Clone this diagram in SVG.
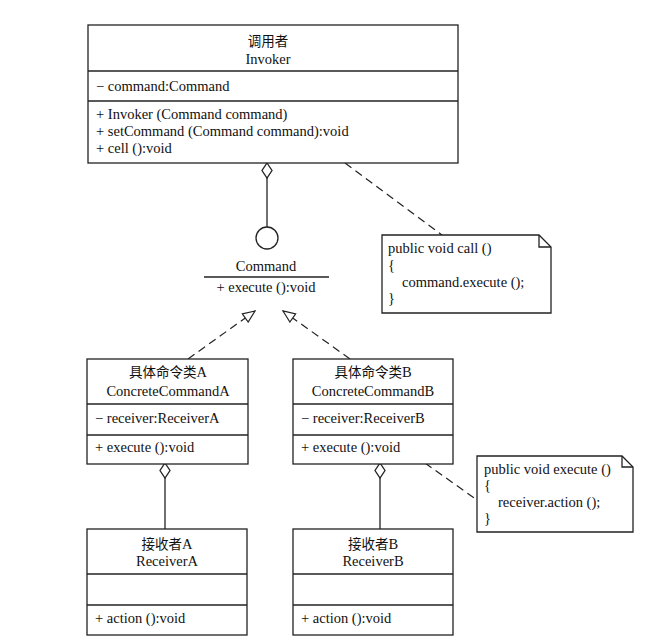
<svg xmlns="http://www.w3.org/2000/svg" width="664" height="644" viewBox="0 0 664 644">
<style>
.box{fill:#fff;stroke:#222;stroke-width:1.3}
.ln{fill:none;stroke:#222;stroke-width:1.3}
.dash{fill:none;stroke:#222;stroke-width:1.2;stroke-dasharray:8 5}
text{font-family:"Liberation Serif","Noto Sans CJK SC",serif;font-size:14.5px;fill:#111}
.c{text-anchor:middle}
.cjk{font-family:"Noto Sans CJK SC","Liberation Serif",sans-serif;font-size:13.5px}
</style>
<defs>
<marker id="tri" viewBox="0 0 14 12" refX="13" refY="6" markerWidth="14" markerHeight="12" markerUnits="userSpaceOnUse" orient="auto">
<path d="M1,1 L13,6 L1,11 Z" fill="#fff" stroke="#222" stroke-width="1.2"/>
</marker>
</defs>
<rect width="664" height="644" fill="#fff"/>
<g id="connectors">
<line class="ln" x1="267" y1="178" x2="267" y2="227"/>
<path class="box" d="M267,163 L272,170.5 L267,178 L262,170.5 Z"/>
<line class="dash" x1="345" y1="163" x2="442" y2="235"/>
<line class="dash" x1="188" y1="359" x2="255" y2="311" marker-end="url(#tri)"/>
<line class="dash" x1="350" y1="359" x2="283" y2="311" marker-end="url(#tri)"/>
<line class="ln" x1="165" y1="478" x2="165" y2="529"/>
<path class="box" d="M165,463 L170,470.5 L165,478 L160,470.5 Z"/>
<line class="ln" x1="380" y1="478" x2="380" y2="529"/>
<path class="box" d="M380,463 L385,470.5 L380,478 L375,470.5 Z"/>
<line class="dash" x1="425" y1="463" x2="477" y2="500"/>
</g>
<g id="invoker">
<rect class="box" x="88" y="25" width="370" height="138"/>
<line class="ln" x1="88" y1="71" x2="458" y2="71"/>
<line class="ln" x1="88" y1="101" x2="458" y2="101"/>
<text class="c cjk" x="268" y="46">调用者</text>
<text class="c" x="268" y="64">Invoker</text>
<text x="96" y="91">− command:Command</text>
<text x="96" y="119">+ Invoker (Command command)</text>
<text x="96" y="136">+ setCommand (Command command):void</text>
<text x="96" y="153">+ cell ():void</text>
</g>
<g id="command">
<circle class="box" cx="267" cy="238" r="11"/>
<text class="c" x="266" y="271">Command</text>
<line class="ln" x1="204" y1="277" x2="329" y2="277"/>
<text class="c" x="266" y="292">+ execute ():void</text>
</g>
<g id="note1">
<path class="box" d="M382,235 L539,235 L551,247 L551,313 L382,313 Z"/>
<path class="ln" d="M539,235 L539,247 L551,247"/>
<text x="388" y="253">public void call ()</text>
<text x="388" y="270">{</text>
<text x="402" y="287">command.execute ();</text>
<text x="388" y="303">}</text>
</g>
<g id="concreteA">
<rect class="box" x="87" y="359" width="161" height="105"/>
<line class="ln" x1="87" y1="404" x2="248" y2="404"/>
<line class="ln" x1="87" y1="435" x2="248" y2="435"/>
<text class="c" x="168" y="377"><tspan class="cjk">具体命令类</tspan>A</text>
<text class="c" x="168" y="396">ConcreteCommandA</text>
<text x="95" y="423">− receiver:ReceiverA</text>
<text x="95" y="452">+ execute ():void</text>
</g>
<g id="concreteB">
<rect class="box" x="293" y="359" width="160" height="105"/>
<line class="ln" x1="293" y1="404" x2="453" y2="404"/>
<line class="ln" x1="293" y1="435" x2="453" y2="435"/>
<text class="c" x="373" y="377"><tspan class="cjk">具体命令类</tspan>B</text>
<text class="c" x="373" y="396">ConcreteCommandB</text>
<text x="301" y="423">− receiver:ReceiverB</text>
<text x="301" y="452">+ execute ():void</text>
</g>
<g id="note2">
<path class="box" d="M477,456 L622,456 L633,467 L633,532 L477,532 Z"/>
<path class="ln" d="M622,456 L622,467 L633,467"/>
<text x="484" y="474">public void execute ()</text>
<text x="484" y="490">{</text>
<text x="498" y="507">receiver.action ();</text>
<text x="484" y="523">}</text>
</g>
<g id="receiverA">
<rect class="box" x="87" y="529" width="160" height="106"/>
<line class="ln" x1="87" y1="574" x2="247" y2="574"/>
<line class="ln" x1="87" y1="605" x2="247" y2="605"/>
<text class="c" x="167" y="549"><tspan class="cjk">接收者</tspan>A</text>
<text class="c" x="167" y="566">ReceiverA</text>
<text x="95" y="623">+ action ():void</text>
</g>
<g id="receiverB">
<rect class="box" x="293" y="529" width="160" height="106"/>
<line class="ln" x1="293" y1="574" x2="453" y2="574"/>
<line class="ln" x1="293" y1="605" x2="453" y2="605"/>
<text class="c" x="373" y="549"><tspan class="cjk">接收者</tspan>B</text>
<text class="c" x="373" y="566">ReceiverB</text>
<text x="301" y="623">+ action ():void</text>
</g>
</svg>
